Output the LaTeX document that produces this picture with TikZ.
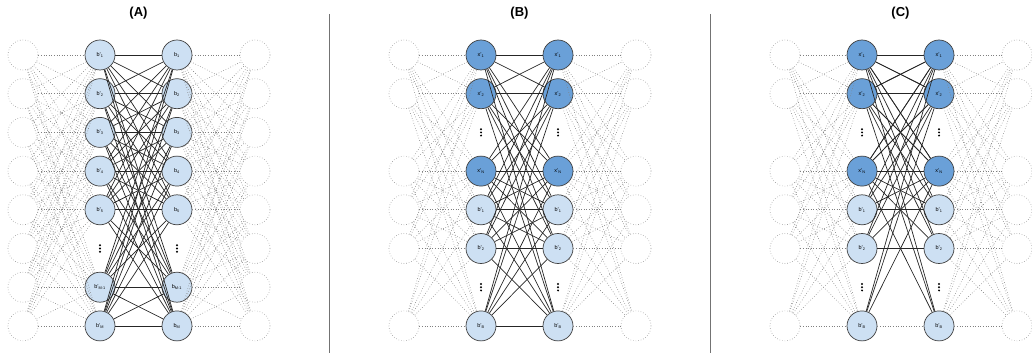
\documentclass[tikz,border=0pt]{standalone}
\usepackage{fontspec}
\setmainfont{Liberation Sans}
\setsansfont{Liberation Sans}
\definecolor{lightb}{RGB}{205,224,243}
\definecolor{darkb}{RGB}{106,160,216}
\tikzset{
  unit/.style={circle, draw=black!75, line width=0.7pt, minimum size=30pt, inner sep=0pt, font=\fontsize{5.5}{6}\selectfont},
  lb/.style={unit, fill=lightb},
  db/.style={unit, fill=darkb},
  ghost/.style={circle, draw=black!40, dotted, line width=0.6pt, minimum size=30pt, inner sep=0pt},
  hid/.style={draw=black!50, dotted, line width=0.6pt},
  con/.style={draw=black!85, line width=0.7pt},
  ttl/.style={font=\bfseries\fontsize{13}{15}\selectfont},
  vdot/.style={fill=black, circle, inner sep=0pt, minimum size=2.2pt},
  divider/.style={draw=black!55, line width=0.8pt}
}
\newcommand{\rowy}[1]{55+(#1-1)*38.7}
\newcommand{\vdotsat}[2]{%
  \node[vdot] at (#1,{#2-3.2}) {};
  \node[vdot] at (#1,{#2}) {};
  \node[vdot] at (#1,{#2+3.2}) {};}
\begin{document}
\begin{tikzpicture}[x=1pt,y=-1pt]
\useasboundingbox (0,0) rectangle (1032,355);
% titles
\node[ttl] (tA) at (138.5,13) {(A)};
\node[ttl] (tB) at (519.5,13) {(B)};
\node[ttl] (tC) at (900.5,13) {(C)};
% dividers
\coordinate (d1t) at (329.5,14); \coordinate (d1b) at (329.5,353);
\coordinate (d2t) at (710.5,14); \coordinate (d2b) at (710.5,353);
\draw[divider] (d1t) -- (d1b);
\draw[divider] (d2t) -- (d2b);

% ---------------- Panel A ----------------
\foreach \i in {1,...,8} {
  \node[ghost] (AL\i) at (23,{\rowy{\i}}) {};
  \node[ghost] (AR\i) at (255,{\rowy{\i}}) {};
}
\foreach \i/\lab in {1/1,2/2,3/3,4/4,5/5,7/{M-1},8/M} {
  \node[lb] (AP\i) at (100,{\rowy{\i}}) {b'\textsubscript{\lab}};
  \node[lb] (AB\i) at (177,{\rowy{\i}}) {b\textsubscript{\lab}};
}
\vdotsat{100}{\rowy{6}}
\vdotsat{177}{\rowy{6}}
\foreach \i in {1,...,8} {
  \foreach \j in {1,2,3,4,5,7,8} {
    \draw[hid] (AL\i) -- (AP\j);
    \draw[hid] (AB\j) -- (AR\i);
  }
}
\foreach \i in {1,2,3,4,5,7,8} {
  \foreach \j in {1,2,3,4,5,7,8} {
    \draw[con] (AP\i) -- (AB\j);
  }
}

% ---------------- Panel B ----------------
\foreach \i in {1,2,4,5,6,8} {
  \node[ghost] (BL\i) at (404,{\rowy{\i}}) {};
  \node[ghost] (BR\i) at (636,{\rowy{\i}}) {};
}
\foreach \i/\lab in {1/1,2/2,4/N} {
  \node[db] (BP\i) at (481,{\rowy{\i}}) {x'\textsubscript{\lab}};
  \node[db] (BQ\i) at (558,{\rowy{\i}}) {x'\textsubscript{\lab}};
}
\foreach \i/\lab in {5/1,6/2,8/B} {
  \node[lb] (BP\i) at (481,{\rowy{\i}}) {b'\textsubscript{\lab}};
  \node[lb] (BQ\i) at (558,{\rowy{\i}}) {b'\textsubscript{\lab}};
}
\vdotsat{481}{\rowy{3}}
\vdotsat{558}{\rowy{3}}
\vdotsat{481}{\rowy{7}}
\vdotsat{558}{\rowy{7}}
\foreach \i in {1,2,4,5,6,8} {
  \foreach \j in {1,2,4,5,6,8} {
    \draw[hid] (BL\i) -- (BP\j);
    \draw[hid] (BQ\j) -- (BR\i);
    \draw[con] (BP\i) -- (BQ\j);
  }
}

% ---------------- Panel C ----------------
\foreach \i in {1,2,4,5,6,8} {
  \node[ghost] (CL\i) at (785,{\rowy{\i}}) {};
  \node[ghost] (CR\i) at (1017,{\rowy{\i}}) {};
}
\foreach \i/\lab in {1/1,2/2,4/N} {
  \node[db] (CP\i) at (862,{\rowy{\i}}) {x'\textsubscript{\lab}};
  \node[db] (CQ\i) at (939,{\rowy{\i}}) {x'\textsubscript{\lab}};
}
\foreach \i/\lab in {5/1,6/2,8/B} {
  \node[lb] (CP\i) at (862,{\rowy{\i}}) {b'\textsubscript{\lab}};
  \node[lb] (CQ\i) at (939,{\rowy{\i}}) {b'\textsubscript{\lab}};
}
\vdotsat{862}{\rowy{3}}
\vdotsat{939}{\rowy{3}}
\vdotsat{862}{\rowy{7}}
\vdotsat{939}{\rowy{7}}
\foreach \i in {1,2,4,5,6,8} {
  \foreach \j in {1,2,4,5,6,8} {
    \draw[hid] (CL\i) -- (CP\j);
    \draw[hid] (CQ\j) -- (CR\i);
  }
}
\foreach \i in {1,2,4} {
  \foreach \j in {1,2,4,5,6,8} {
    \draw[con] (CP\i) -- (CQ\j);
    \draw[con] (CP\j) -- (CQ\i);
  }
}
\draw[con] (CP5) -- (CQ5);
\draw[con] (CP6) -- (CQ6);
\draw[hid] (CP8) -- (CQ8);
\end{tikzpicture}
\end{document}
